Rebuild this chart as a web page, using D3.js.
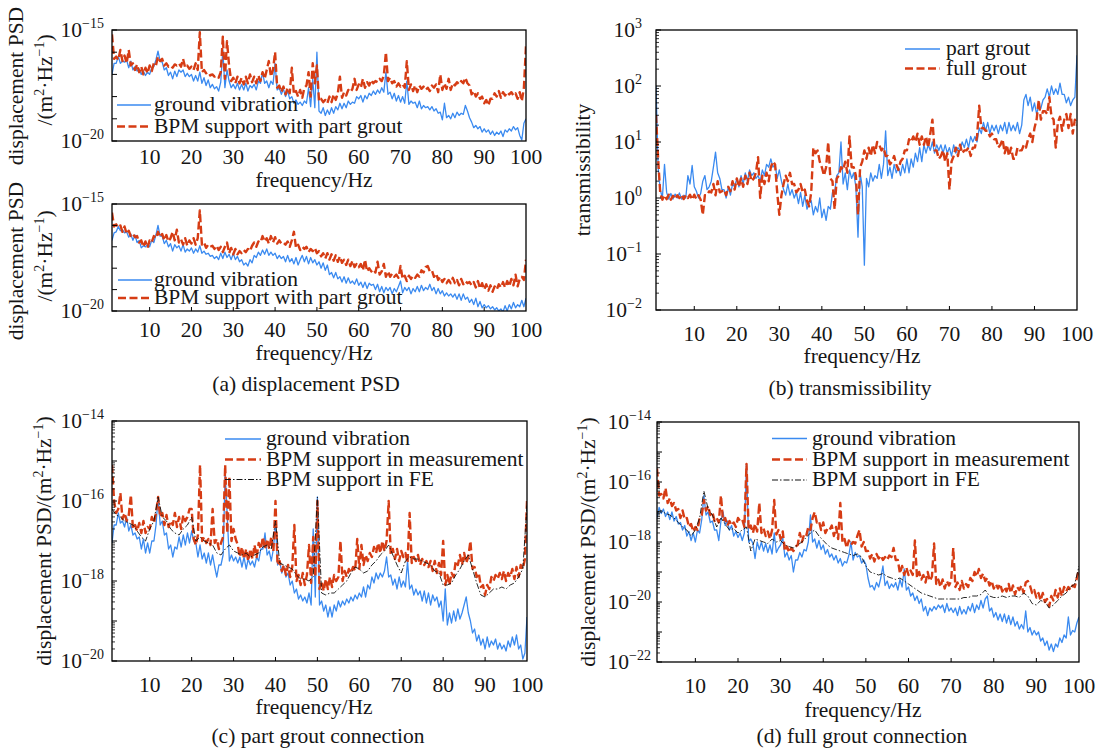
<!DOCTYPE html>
<html>
<head>
<meta charset="utf-8">
<script src="https://cdn.jsdelivr.net/npm/d3@7"></script>
<style>
  body { margin: 0; background: #fff; }
  svg { font-family: "Liberation Serif", "Times New Roman", serif; }
</style>
</head>
<body>
<svg id="chart" width="1099" height="749"></svg>
<script>
// ---------- data ----------
// frequency grids, Hz
var fineFreq = d3.range(1, 100.001, 0.5);   // measured spectra
var feFreq = d3.range(1, 100.001, 1);       // FE result
var freqTicks = [10, 20, 30, 40, 50, 60, 70, 80, 90, 100];

// (a) upper: log10 displacement PSD, m^2/Hz
var aTopGround = [
  -17.0,-16.5,-16.5,-16.2,-16.5,-16.4,-16.45,-16.35,-16.7,-16.4,-16.8,-16.65,-16.85,-16.75,-17.0,-16.85,-17.05,-16.9,-17.0,-16.7,
  -16.65,-16.35,-15.95,-16.4,-16.45,-16.8,-16.7,-17.05,-16.9,-17.2,-16.85,-17.1,-16.8,-16.9,-16.8,-17.1,-16.95,-17.1,-17.0,-17.3,
  -17.05,-17.3,-16.9,-17.4,-17.15,-17.5,-17.25,-17.6,-17.45,-17.65,-17.55,-17.75,-17.35,-15.9,-17.6,-16.8,-17.3,-17.6,-17.45,-17.65,
  -17.4,-17.7,-17.45,-17.7,-17.4,-17.75,-17.5,-17.6,-17.45,-17.7,-17.3,-17.4,-16.9,-17.4,-17.3,-17.6,-17.3,-17.45,-16.5,-17.7,
  -17.6,-17.9,-17.65,-18.0,-17.75,-18.1,-18.0,-18.3,-18.15,-18.35,-18.25,-18.4,-18.2,-18.3,-17.6,-18.45,-17.2,-18.5,-16.0,-18.65,
  -18.75,-18.5,-18.85,-18.6,-18.8,-18.5,-18.75,-18.45,-18.6,-18.3,-18.55,-18.3,-18.5,-18.2,-18.35,-18.25,-18.3,-18.0,-18.1,-17.95,
  -18.25,-17.95,-18.1,-17.85,-17.95,-17.75,-17.9,-17.7,-17.85,-17.6,-17.8,-16.9,-17.9,-17.8,-18.1,-17.85,-18.2,-17.95,-18.25,-18.0,
  -18.3,-17.3,-18.35,-18.2,-18.3,-18.25,-18.5,-18.2,-18.55,-18.4,-18.5,-18.45,-18.6,-18.45,-18.65,-18.55,-18.75,-18.7,-19.05,-18.3,
  -18.95,-18.85,-19.0,-18.75,-18.95,-18.7,-18.85,-18.75,-18.8,-18.4,-18.65,-18.95,-19.15,-19.4,-19.3,-19.45,-19.35,-19.6,-19.45,-19.6,
  -19.5,-19.7,-19.55,-19.75,-19.6,-19.7,-19.55,-19.8,-19.5,-19.6,-19.45,-19.55,-19.35,-19.5,-19.4,-19.75,-19.95,-19.2,-19.0
];
var aTopBpm = [
  -15.2,-16.3,-16.2,-16.35,-15.9,-16.4,-16.15,-16.5,-15.9,-16.6,-16.5,-16.8,-16.55,-16.9,-16.65,-17.0,-16.7,-16.95,-16.6,-16.85,
  -16.5,-16.6,-16.2,-16.4,-16.3,-16.6,-16.5,-16.65,-16.6,-16.7,-16.55,-16.6,-16.5,-16.65,-16.3,-16.7,-16.6,-16.75,-16.65,-16.8,
  -16.5,-16.8,-15.1,-16.9,-16.8,-16.95,-16.9,-17.05,-17.0,-17.1,-17.05,-17.15,-16.9,-15.3,-17.2,-15.5,-16.6,-17.3,-17.15,-17.4,
  -17.1,-17.4,-17.15,-17.45,-17.1,-17.4,-17.0,-17.35,-17.1,-17.4,-17.05,-17.3,-16.9,-17.2,-16.8,-16.4,-17.1,-16.8,-16.0,-17.6,
  -17.5,-17.8,-17.55,-17.9,-17.6,-17.85,-16.7,-17.9,-17.75,-18.0,-17.7,-18.05,-17.6,-17.5,-16.9,-18.0,-16.5,-17.4,-16.6,-18.2,
  -18.1,-18.25,-18.15,-18.3,-18.0,-18.25,-17.9,-18.15,-17.85,-17.1,-18.05,-17.8,-17.95,-17.7,-17.8,-17.65,-17.2,-17.7,-17.45,-17.6,
  -17.2,-17.6,-17.35,-17.5,-17.25,-17.4,-17.3,-17.35,-17.2,-17.3,-17.05,-16.0,-17.3,-17.15,-17.4,-17.3,-17.55,-17.4,-17.55,-17.45,
  -17.6,-16.4,-17.7,-17.45,-17.75,-17.5,-17.8,-17.5,-17.65,-17.55,-17.7,-17.6,-17.75,-17.5,-17.6,-17.45,-17.8,-17.0,-17.7,-17.4,
  -17.65,-17.2,-17.7,-17.4,-17.5,-17.35,-17.45,-17.3,-17.4,-17.15,-17.4,-17.5,-17.9,-17.75,-18.0,-17.85,-18.1,-18.0,-18.3,-18.15,
  -18.4,-18.1,-18.1,-17.85,-18.0,-17.75,-18.05,-17.8,-17.95,-17.8,-17.9,-17.8,-17.95,-17.85,-18.1,-17.8,-18.2,-17.6,-15.7
];

// (a) lower
var aBotGround = [
  -16.7,-16.35,-16.3,-16.05,-16.25,-16.2,-16.35,-16.3,-16.55,-16.4,-16.7,-16.45,-16.8,-16.7,-17.05,-16.95,-17.0,-16.9,-17.0,-16.7,
  -16.8,-16.45,-16.0,-16.5,-16.5,-16.85,-16.7,-17.0,-16.85,-17.2,-16.9,-17.05,-16.95,-17.2,-16.9,-17.25,-17.1,-17.2,-17.05,-17.3,
  -17.1,-17.25,-16.95,-17.3,-17.2,-17.35,-17.3,-17.45,-17.4,-17.55,-17.45,-17.6,-17.3,-17.55,-17.25,-17.5,-17.35,-17.6,-17.3,-17.6,
  -17.45,-17.7,-17.6,-17.85,-17.75,-17.9,-17.6,-17.75,-17.4,-17.5,-17.25,-17.4,-17.15,-17.35,-17.1,-17.4,-17.25,-17.4,-17.3,-17.55,
  -17.4,-17.55,-17.45,-17.7,-17.4,-17.7,-17.55,-17.8,-17.5,-17.85,-17.6,-17.4,-17.7,-17.45,-17.8,-17.5,-17.75,-17.6,-17.85,-17.7,
  -18.0,-17.75,-18.1,-17.85,-18.3,-18.2,-18.45,-18.2,-18.5,-18.4,-18.65,-18.4,-18.7,-18.45,-18.7,-18.6,-18.75,-18.5,-18.8,-18.65,
  -18.9,-18.65,-18.95,-18.7,-18.8,-18.75,-19.0,-18.75,-19.1,-18.85,-19.15,-18.9,-19.05,-18.9,-19.2,-18.95,-19.1,-18.85,-18.6,-19.15,
  -18.9,-19.05,-18.9,-19.2,-18.95,-19.1,-18.85,-19.1,-18.8,-19.05,-18.9,-19.0,-18.75,-19.05,-18.9,-19.2,-18.95,-19.2,-19.05,-19.3,
  -19.15,-19.3,-19.2,-19.35,-19.2,-19.45,-19.2,-19.5,-19.2,-19.45,-19.35,-19.6,-19.45,-19.7,-19.4,-19.8,-19.55,-19.85,-19.7,-19.85,
  -19.75,-19.9,-19.8,-19.95,-19.85,-20.0,-19.9,-20.05,-19.75,-20.0,-19.7,-19.9,-19.6,-19.85,-19.7,-19.8,-19.5,-19.8,-19.4
];
var aBotBpm = [
  -15.4,-16.05,-15.95,-16.1,-16.0,-16.3,-16.05,-16.4,-16.25,-16.5,-16.4,-16.55,-16.5,-16.8,-16.7,-17.0,-16.75,-17.05,-16.7,-16.8,
  -16.5,-16.6,-16.3,-16.55,-16.4,-16.7,-16.45,-16.75,-16.6,-16.3,-16.7,-16.2,-16.8,-16.65,-16.9,-16.6,-16.95,-16.7,-16.85,-16.6,
  -16.9,-16.6,-15.3,-16.9,-16.8,-17.05,-16.9,-17.0,-16.95,-17.1,-16.95,-17.15,-17.0,-17.25,-17.0,-16.8,-17.3,-17.05,-17.35,-17.1,
  -17.35,-17.2,-17.3,-17.15,-17.25,-17.1,-17.2,-16.95,-16.8,-17.0,-16.75,-16.8,-16.5,-16.75,-16.6,-16.85,-16.5,-16.8,-16.55,-16.85,
  -16.7,-16.85,-16.8,-16.9,-16.75,-17.0,-16.7,-16.3,-17.05,-16.9,-17.15,-17.0,-17.1,-17.0,-17.25,-17.1,-17.2,-17.05,-17.3,-17.2,
  -17.45,-17.3,-17.55,-17.3,-17.6,-17.35,-17.65,-17.4,-17.7,-17.45,-17.75,-17.6,-17.85,-17.6,-17.9,-17.65,-17.95,-17.8,-17.95,-17.8,
  -18.1,-17.6,-18.15,-18.0,-18.15,-18.05,-18.2,-17.7,-18.3,-18.15,-17.8,-18.4,-18.15,-18.4,-18.25,-18.4,-18.3,-18.45,-17.9,-18.5,
  -18.35,-18.6,-18.35,-18.5,-18.35,-18.45,-18.3,-18.4,-18.1,-18.2,-17.95,-17.9,-18.15,-18.1,-18.4,-18.25,-18.55,-18.4,-18.65,-18.5,
  -18.7,-18.55,-18.7,-18.45,-18.7,-18.55,-18.8,-18.5,-18.75,-18.6,-18.7,-18.65,-18.8,-18.65,-18.9,-18.6,-18.95,-18.7,-19.0,-18.75,
  -19.05,-18.8,-19.1,-18.85,-19.0,-18.75,-18.9,-18.65,-18.9,-18.6,-18.85,-18.5,-18.8,-18.3,-18.85,-18.5,-18.4,-18.55,-17.6
];

// (b) log10 transmissibility
var bPartGrout = [
  2.0,0.55,0.15,0.0,0.6,0.1,-0.02,0.08,-0.02,0.07,0.0,0.09,-0.02,0.05,0.0,0.4,0.25,0.58,0.2,0.12,
  0.0,0.08,0.3,0.4,0.15,0.2,0.3,0.55,0.82,0.45,0.35,0.15,0.15,0.0,0.2,0.05,0.25,0.2,0.35,0.2,
  0.4,0.25,0.45,0.3,0.5,0.4,0.45,0.35,0.4,0.3,0.5,0.4,0.6,0.55,0.7,0.55,0.6,0.35,0.5,0.3,
  0.15,0.05,0.25,0.05,0.15,0.0,0.1,-0.1,0.1,-0.15,0.05,-0.2,-0.1,-0.05,-0.3,-0.15,-0.25,0.0,-0.35,-0.2,
  -0.4,-0.15,-0.2,0.1,0.1,0.4,0.45,1.0,0.25,0.45,0.15,0.5,0.35,0.45,0.2,-0.7,0.45,0.2,-1.2,0.35,
  0.2,0.45,0.3,0.4,0.35,0.6,0.35,0.6,1.2,0.4,0.55,0.35,0.6,0.45,0.55,0.4,0.6,0.45,0.7,0.45,
  0.7,0.55,0.8,0.65,0.9,0.65,0.95,0.8,0.95,0.85,1.0,0.8,0.95,0.85,0.95,0.8,0.95,0.8,0.9,0.75,
  0.95,0.8,0.9,0.85,1.0,0.9,1.05,0.9,1.1,1.0,1.1,1.0,1.25,1.15,1.35,1.2,1.35,1.15,1.3,1.2,
  1.3,1.15,1.3,1.2,1.35,1.15,1.35,1.2,1.3,1.2,1.35,1.15,1.3,1.75,1.85,1.65,1.8,1.55,1.7,1.5,
  1.65,1.6,1.75,1.8,1.95,1.8,2.0,1.85,1.95,1.85,2.05,1.85,1.85,1.7,1.8,1.65,1.75,1.8,2.55
];
var bFullGrout = [
  1.48,0.7,0.08,-0.03,0.05,-0.02,0.06,-0.03,0.04,-0.02,0.05,0.0,0.06,-0.02,0.05,0.0,0.06,-0.03,0.06,-0.02,
  0.05,-0.03,-0.3,0.05,0.05,0.12,0.1,0.25,0.05,0.3,0.1,0.12,0.15,0.05,0.2,0.12,0.3,0.15,0.35,0.2,
  0.35,0.2,0.4,0.25,0.45,0.3,0.35,0.45,0.73,0.0,0.4,0.25,0.45,0.3,0.55,0.65,0.6,0.1,-0.3,0.05,
  0.25,0.4,0.3,0.45,0.25,0.25,0.1,0.15,0.25,0.1,0.15,-0.05,-0.15,0.1,0.9,0.8,0.85,0.65,0.55,0.4,
  0.55,1.0,0.35,0.3,-0.2,0.35,0.4,0.55,0.5,0.65,0.45,1.1,0.55,0.55,0.4,-0.3,0.55,0.65,0.85,0.7,
  0.9,0.75,0.95,0.8,1.0,0.95,0.85,0.9,0.75,0.75,0.6,0.65,0.75,0.6,0.5,0.65,0.7,0.85,0.85,1.05,
  1.0,1.1,1.0,1.15,0.95,1.1,0.95,1.1,0.9,1.15,1.4,0.85,0.85,0.7,0.75,0.85,0.65,0.8,0.15,0.65,
  0.75,0.9,0.75,0.95,0.8,0.85,0.85,0.9,0.75,0.9,0.9,1.1,1.65,1.25,1.25,1.2,1.2,1.1,1.15,1.05,
  1.05,0.9,0.95,1.05,0.8,0.95,0.75,0.9,0.7,0.7,0.9,0.85,0.85,0.95,0.9,1.05,1.15,1.0,1.25,1.4,
  1.75,1.4,1.55,1.55,1.5,1.8,1.45,1.4,0.9,1.35,1.45,1.2,1.4,1.5,1.25,1.5,1.15,1.4,1.3
];

// (c) part grout connection, log10 PSD
var cGround = [
  -17.05,-16.6,-16.6,-16.3,-16.55,-16.5,-16.65,-16.4,-16.75,-16.6,-16.85,-16.8,-16.95,-16.9,-17.2,-16.95,-17.3,-17.05,-17.3,-17.0,
  -17.0,-16.6,-15.9,-16.6,-16.5,-16.85,-16.8,-17.2,-17.1,-17.4,-17.15,-17.2,-16.9,-17.15,-16.85,-17.1,-16.8,-17.05,-16.75,-17.0,
  -17.05,-17.4,-17.1,-17.45,-17.3,-17.55,-17.3,-17.6,-17.35,-17.65,-17.9,-17.6,-17.6,-17.35,-15.3,-16.4,-17.5,-17.35,-17.5,-17.4,
  -17.55,-17.4,-17.65,-17.4,-17.7,-17.45,-17.6,-17.5,-17.65,-17.4,-17.5,-17.2,-17.2,-16.8,-17.35,-17.25,-17.5,-17.2,-16.6,-17.6,
  -17.5,-17.8,-17.65,-17.9,-17.8,-18.1,-18.0,-18.3,-18.2,-18.45,-18.35,-18.5,-18.4,-18.55,-18.3,-18.6,-16.7,-18.4,-15.9,-18.6,
  -18.5,-18.75,-18.6,-18.9,-18.65,-18.9,-18.6,-18.75,-18.5,-18.65,-18.5,-18.6,-18.45,-18.55,-18.4,-18.5,-18.35,-18.45,-18.3,-18.4,
  -18.15,-18.4,-18.1,-18.2,-17.9,-18.05,-17.8,-17.95,-17.8,-17.9,-17.75,-17.4,-17.9,-17.85,-18.1,-17.95,-18.2,-17.9,-18.15,-18.0,
  -18.15,-17.5,-18.2,-18.1,-18.35,-18.2,-18.35,-18.25,-18.5,-18.25,-18.55,-18.3,-18.6,-18.35,-18.5,-18.4,-18.65,-18.5,-19.0,-18.2,
  -19.1,-18.8,-19.05,-18.75,-19.0,-18.7,-18.95,-18.8,-18.6,-18.4,-18.8,-19.0,-19.3,-19.2,-19.5,-19.35,-19.6,-19.45,-19.7,-19.4,
  -19.65,-19.5,-19.6,-19.45,-19.7,-19.55,-19.7,-19.6,-19.75,-19.5,-19.65,-19.4,-19.6,-19.35,-19.7,-19.6,-19.95,-19.8,-18.9
];
var cBpm = [
  -15.1,-16.0,-16.3,-16.2,-15.8,-16.45,-16.3,-16.5,-16.35,-15.85,-16.7,-16.6,-16.75,-16.55,-16.8,-16.5,-16.8,-16.65,-16.7,-16.4,
  -16.55,-16.3,-15.9,-16.4,-16.3,-16.6,-16.35,-16.65,-16.5,-16.6,-16.3,-16.65,-16.4,-16.7,-16.35,-16.5,-16.4,-16.2,-16.2,-16.95,
  -17.1,-16.85,-15.1,-17.0,-16.9,-17.05,-16.95,-17.1,-16.2,-17.05,-16.95,-17.2,-17.05,-16.9,-15.1,-16.8,-15.4,-17.0,-16.7,-16.95,
  -17.1,-17.4,-17.15,-17.45,-17.2,-17.5,-17.2,-17.45,-17.1,-17.4,-17.05,-17.2,-16.9,-17.2,-16.95,-17.2,-16.9,-17.25,-16.0,-17.6,
  -17.5,-17.75,-17.6,-17.85,-17.6,-17.9,-17.65,-16.6,-18.0,-17.85,-18.1,-17.8,-18.1,-17.85,-17.1,-18.05,-16.9,-17.9,-16.0,-18.2,
  -18.0,-18.25,-17.95,-18.2,-17.9,-18.15,-17.85,-18.0,-17.9,-17.0,-18.0,-17.75,-17.9,-17.7,-17.8,-17.65,-17.75,-16.95,-17.7,-17.1,
  -17.6,-17.35,-17.5,-17.3,-17.4,-17.15,-17.3,-17.05,-17.3,-17.0,-17.25,-17.0,-16.0,-17.35,-17.2,-17.45,-17.2,-17.5,-17.25,-17.4,
  -17.3,-17.55,-16.3,-17.55,-17.4,-17.5,-17.35,-17.6,-17.45,-17.6,-17.5,-17.65,-17.5,-17.75,-17.5,-17.8,-17.55,-17.85,-17.0,-18.1,
  -17.85,-18.1,-17.8,-17.9,-17.5,-17.6,-17.35,-17.6,-17.3,-17.55,-17.4,-17.0,-17.7,-17.65,-17.9,-17.8,-18.15,-18.1,-18.35,-18.1,
  -18.2,-17.9,-18.0,-17.85,-17.95,-17.8,-17.95,-17.75,-18.0,-17.8,-17.9,-17.7,-17.95,-17.65,-17.9,-17.6,-17.7,-17.45,-16.0
];
var cFe = [
  -16.2,-16.35,-16.4,-16.5,-16.55,-16.6,-16.75,-16.9,-17.0,-16.7,
  -16.5,-15.9,-16.4,-16.5,-16.7,-16.8,-16.85,-16.7,-16.6,-16.4,
  -17.0,-16.9,-17.0,-17.05,-17.1,-17.3,-17.35,-17.2,-17.1,-17.25,
  -17.3,-17.35,-17.3,-17.4,-17.35,-17.3,-17.15,-17.1,-17.2,-16.5,
  -17.55,-17.6,-17.65,-17.7,-17.85,-17.95,-17.95,-18.0,-17.9,-15.9,
  -18.3,-18.35,-18.3,-18.3,-18.2,-18.1,-18.0,-17.8,-17.65,-17.7,
  -17.8,-17.75,-17.6,-17.5,-17.35,-17.25,-17.1,-17.35,-17.6,-17.8,
  -17.5,-17.4,-17.45,-17.45,-17.5,-17.55,-17.6,-17.75,-17.8,-18.1,
  -18.1,-18.05,-17.85,-17.7,-17.5,-17.35,-17.7,-18.05,-18.35,-18.4,
  -18.3,-18.2,-18.2,-18.15,-18.2,-18.1,-18.05,-17.9,-17.7,-16.1
];

// (d) full grout connection, log10 PSD
var dGround = [
  -17.2,-16.85,-17.05,-16.9,-17.15,-17.0,-17.25,-17.0,-17.3,-17.15,-17.4,-17.35,-17.6,-17.45,-17.8,-17.65,-17.95,-17.7,-18.0,-17.6,
  -17.7,-17.25,-16.45,-17.1,-17.0,-17.35,-17.3,-17.6,-17.6,-17.95,-17.3,-17.0,-17.45,-17.3,-17.6,-17.45,-17.8,-17.65,-17.85,-17.7,
  -17.95,-17.7,-15.4,-18.0,-17.9,-18.05,-18.55,-18.0,-18.25,-18.0,-18.3,-18.05,-18.35,-18.1,-18.4,-17.7,-18.35,-18.2,-18.1,-17.85,
  -18.5,-18.35,-18.6,-18.45,-19.0,-18.6,-18.6,-18.35,-18.5,-18.25,-18.3,-18.0,-17.1,-18.0,-17.9,-18.2,-17.95,-18.25,-18.1,-18.4,
  -18.25,-18.5,-18.4,-18.6,-18.45,-18.7,-18.55,-18.8,-18.65,-18.7,-18.45,-18.0,-18.6,-18.35,-18.5,-18.45,-18.7,-18.6,-18.75,-19.2,
  -19.5,-19.45,-19.6,-19.35,-19.5,-19.2,-18.8,-19.45,-19.3,-19.55,-19.4,-19.5,-19.35,-19.6,-19.25,-19.5,-18.9,-19.6,-19.5,-19.8,
  -19.7,-19.95,-19.8,-20.05,-19.9,-20.3,-20.15,-20.45,-20.2,-20.3,-20.15,-20.25,-20.1,-20.2,-20.1,-20.35,-20.05,-20.3,-20.2,-20.35,
  -20.2,-20.45,-20.15,-20.4,-20.25,-20.4,-20.15,-20.3,-20.05,-20.35,-20.1,-20.25,-19.95,-20.2,-19.9,-19.8,-20.3,-20.2,-20.5,-20.35,
  -20.6,-20.4,-20.65,-20.4,-20.7,-20.45,-20.75,-20.5,-20.8,-20.65,-20.9,-20.75,-20.9,-20.3,-21.0,-20.85,-21.1,-20.95,-21.1,-21.0,
  -21.3,-21.2,-21.45,-21.3,-21.6,-21.4,-21.65,-21.4,-21.5,-21.2,-21.35,-21.1,-21.2,-20.5,-21.1,-20.95,-21.0,-20.7,-20.5
];
var dBpm = [
  -15.55,-16.45,-16.4,-16.55,-16.2,-16.7,-16.55,-16.8,-16.7,-16.95,-16.9,-17.2,-16.95,-17.25,-17.2,-17.5,-17.4,-17.65,-17.5,-17.6,
  -17.2,-17.1,-16.6,-16.95,-16.8,-17.1,-17.0,-17.3,-17.2,-17.35,-16.45,-17.3,-17.2,-17.45,-17.3,-17.45,-17.35,-17.5,-17.2,-17.3,
  -17.25,-17.5,-15.4,-17.6,-17.45,-17.7,-17.4,-17.65,-16.7,-17.7,-17.55,-17.8,-17.65,-17.9,-17.6,-16.6,-17.75,-17.6,-17.9,-17.65,
  -18.3,-18.15,-18.35,-18.2,-18.3,-18.15,-18.1,-17.7,-18.0,-17.75,-17.8,-17.5,-17.6,-17.2,-17.0,-17.35,-17.3,-17.6,-17.35,-17.7,
  -17.55,-17.6,-17.45,-17.8,-17.5,-17.9,-16.7,-18.0,-17.9,-18.2,-17.95,-18.1,-18.0,-18.05,-17.8,-17.6,-18.15,-18.0,-18.3,-18.3,
  -18.55,-18.4,-18.65,-18.4,-18.55,-18.45,-18.6,-18.5,-18.6,-18.45,-18.5,-18.2,-18.6,-18.6,-19.05,-18.8,-19.1,-18.85,-19.1,-18.95,
  -19.1,-17.95,-19.2,-19.0,-19.25,-19.1,-19.35,-19.0,-19.3,-19.15,-18.05,-19.4,-19.25,-19.5,-19.25,-19.55,-19.3,-19.45,-19.3,-18.2,
  -19.5,-19.35,-19.6,-19.3,-19.55,-19.4,-19.5,-19.2,-19.3,-19.0,-19.15,-18.9,-19.2,-19.05,-19.3,-19.2,-19.45,-19.3,-19.55,-19.4,
  -19.55,-19.4,-19.65,-19.5,-19.65,-19.4,-19.7,-19.45,-19.75,-19.5,-19.6,-19.45,-19.7,-19.35,-19.3,-19.45,-19.7,-19.6,-19.85,-19.7,
  -19.95,-19.7,-20.0,-19.9,-20.15,-19.8,-19.95,-19.6,-19.85,-19.55,-19.8,-19.5,-19.65,-19.5,-19.6,-19.45,-19.5,-19.2,-18.9
];
var dFe = [
  -17.0,-16.95,-17.05,-17.1,-17.2,-17.35,-17.5,-17.6,-17.8,-17.6,
  -17.2,-16.3,-16.9,-17.1,-17.5,-17.2,-17.4,-17.6,-17.55,-17.7,
  -17.6,-17.5,-18.3,-17.9,-17.95,-18.0,-18.05,-17.9,-18.0,-17.95,
  -18.1,-18.15,-18.2,-18.1,-18.0,-17.85,-17.7,-17.6,-17.8,-17.95,
  -18.1,-18.2,-18.25,-18.3,-18.35,-18.4,-18.45,-18.4,-18.5,-18.8,
  -19.0,-19.05,-19.1,-19.05,-19.15,-19.2,-19.25,-19.2,-19.3,-19.4,
  -19.5,-19.6,-19.7,-19.75,-19.8,-19.85,-19.9,-19.9,-19.9,-19.9,
  -19.9,-19.9,-19.85,-19.85,-19.8,-19.8,-19.75,-19.6,-19.8,-19.85,
  -19.85,-19.8,-19.85,-19.8,-19.8,-19.85,-19.7,-19.8,-20.05,-20.1,
  -19.95,-20.0,-20.2,-20.1,-19.95,-19.8,-19.7,-19.5,-19.4,-18.8
];

// ---------- styles ----------
var styles = {
  ground: { stroke: "#3a8af0", width: 1.3, dash: null },
  bpm:    { stroke: "#d63c14", width: 2.4, dash: "8,3.5" },
  fe:     { stroke: "#111111", width: 0.9, dash: "6,2,1.5,2" }
};
var FS = 21.5;     // main font size
var SUP = 14;      // superscript size
var TXT = "#161616";

var svg = d3.select("#chart");
var defs = svg.append("defs");

function powLabel(sel, e) {
  sel.append("tspan").text("10");
  sel.append("tspan").attr("font-size", SUP).attr("dy", -9)
    .text(e < 0 ? "\u2212" + (-e) : String(e));
}

function psdLabel(sel, prefix) {
  sel.append("tspan").text(prefix + "(m");
  sel.append("tspan").attr("font-size", SUP).attr("dy", -8).text("2");
  sel.append("tspan").attr("dy", 8).text("\u00b7Hz");
  sel.append("tspan").attr("font-size", SUP).attr("dy", -8).text("\u22121");
  sel.append("tspan").attr("dy", 8).text(")");
}

var panels = [
  { left: 112, right: 526, top: 30, bottom: 141, yMin: -20, yMax: -15, yLabels: [-15, -20],
    minor: false, xTickMarks: false, xLabelY: 164, xTitle: [314, 187], labelX: 104,
    series: [ { v: aTopGround, f: fineFreq, s: "ground" }, { v: aTopBpm, f: fineFreq, s: "bpm" } ],
    legend: { x1: 117, x2: 151, tx: 154, rows: [[105, "ground vibration", "ground"], [126.5, "BPM support with part grout", "bpm"]] } },
  { left: 112, right: 526, top: 204, bottom: 311, yMin: -20, yMax: -15, yLabels: [-15, -20],
    minor: false, xTickMarks: true, xLabelY: 337, xTitle: [314, 360], labelX: 104,
    caption: [306, 391, "(a) displacement PSD"],
    series: [ { v: aBotGround, f: fineFreq, s: "ground" }, { v: aBotBpm, f: fineFreq, s: "bpm" } ],
    legend: { x1: 118, x2: 152, tx: 154, rows: [[280, "ground vibration", "ground"], [298, "BPM support with part grout", "bpm"]] } },
  { left: 656, right: 1077, top: 30, bottom: 310, yMin: -2, yMax: 3, yLabels: [3, 2, 1, 0, -1, -2],
    minor: true, xTickMarks: true, xLabelY: 341, xTitle: [862, 363], labelX: 642,
    caption: [850, 395, "(b) transmissibility"],
    series: [ { v: bPartGrout, f: fineFreq, s: "ground" }, { v: bFullGrout, f: fineFreq, s: "bpm" } ],
    legend: { x1: 905, x2: 940, tx: 946, rows: [[49, "part grout", "ground"], [68.5, "full grout", "bpm"]] } },
  { left: 112, right: 527, top: 421, bottom: 661, yMin: -20, yMax: -14, yLabels: [-14, -16, -18, -20],
    minor: true, xTickMarks: true, xLabelY: 692, xTitle: [314, 714], labelX: 104,
    caption: [318, 743, "(c) part grout connection"],
    series: [ { v: cGround, f: fineFreq, s: "ground" }, { v: cBpm, f: fineFreq, s: "bpm" }, { v: cFe, f: feFreq, s: "fe" } ],
    legend: { x1: 225, x2: 261, tx: 266, rows: [[439, "ground vibration", "ground"], [459.5, "BPM support in measurement", "bpm"], [479.5, "BPM support in FE", "fe"]] } },
  { left: 657, right: 1079, top: 422, bottom: 662, yMin: -22, yMax: -14, yLabels: [-14, -16, -18, -20, -22],
    minor: true, xTickMarks: true, xLabelY: 693, xTitle: [863, 717], labelX: 651,
    caption: [862, 743, "(d) full grout connection"],
    series: [ { v: dGround, f: fineFreq, s: "ground" }, { v: dBpm, f: fineFreq, s: "bpm" }, { v: dFe, f: feFreq, s: "fe" } ],
    legend: { x1: 772, x2: 807, tx: 812, rows: [[438.5, "ground vibration", "ground"], [459.5, "BPM support in measurement", "bpm"], [480, "BPM support in FE", "fe"]] } }
];

panels.forEach(function(p, idx) {
  var x = d3.scaleLinear().domain([1, 100]).range([p.left, p.right]);
  var y = d3.scaleLog().domain([Math.pow(10, p.yMin), Math.pow(10, p.yMax)]).range([p.bottom, p.top]);
  var g = svg.append("g");

  defs.append("clipPath").attr("id", "clip" + idx).append("rect")
    .attr("x", p.left).attr("y", p.top)
    .attr("width", p.right - p.left).attr("height", p.bottom - p.top);

  var line = d3.line().x(function(d) { return x(d[0]); }).y(function(d) { return y(d[1]); });
  var lines = g.append("g").attr("clip-path", "url(#clip" + idx + ")");
  p.series.forEach(function(s) {
    var st = styles[s.s];
    var pts = s.v.map(function(v, i) { return [s.f[i], Math.pow(10, v)]; });
    lines.append("path").datum(pts)
      .attr("d", line)
      .attr("fill", "none")
      .attr("stroke", st.stroke)
      .attr("stroke-width", st.width)
      .attr("stroke-dasharray", st.dash)
      .attr("stroke-linejoin", "round");
  });

  // frame
  g.append("rect")
    .attr("x", p.left).attr("y", p.top)
    .attr("width", p.right - p.left).attr("height", p.bottom - p.top)
    .attr("fill", "none").attr("stroke", "#000").attr("stroke-width", 1.3);

  // y ticks, inside
  for (var e = p.yMin; e <= p.yMax; e++) {
    var yy = y(Math.pow(10, e));
    g.append("line").attr("x1", p.left).attr("x2", p.left + 5)
      .attr("y1", yy).attr("y2", yy).attr("stroke", "#000").attr("stroke-width", 1);
    if (p.minor && e < p.yMax) {
      for (var k = 2; k <= 9; k++) {
        var ym = y(k * Math.pow(10, e));
        g.append("line").attr("x1", p.left).attr("x2", p.left + 3)
          .attr("y1", ym).attr("y2", ym).attr("stroke", "#000").attr("stroke-width", 0.8);
      }
    }
  }
  p.yLabels.forEach(function(e) {
    var t = g.append("text").attr("x", p.labelX).attr("y", y(Math.pow(10, e)) + 7)
      .attr("text-anchor", "end").attr("font-size", FS).attr("fill", TXT);
    powLabel(t, e);
  });

  // x ticks
  freqTicks.forEach(function(f) {
    if (p.xTickMarks && f < 100) {
      g.append("line").attr("x1", x(f)).attr("x2", x(f))
        .attr("y1", p.bottom).attr("y2", p.bottom - 4).attr("stroke", "#000").attr("stroke-width", 1);
    }
    g.append("text").attr("x", x(f)).attr("y", p.xLabelY)
      .attr("text-anchor", "middle").attr("font-size", FS).attr("fill", TXT).text(f);
  });
  g.append("text").attr("x", p.xTitle[0]).attr("y", p.xTitle[1])
    .attr("text-anchor", "middle").attr("font-size", FS).attr("fill", TXT).text("frequency/Hz");
  if (p.caption) {
    g.append("text").attr("x", p.caption[0]).attr("y", p.caption[1])
      .attr("text-anchor", "middle").attr("font-size", FS).attr("fill", TXT).text(p.caption[2]);
  }

  // legend
  p.legend.rows.forEach(function(r) {
    var st = styles[r[2]];
    g.append("line").attr("x1", p.legend.x1).attr("x2", p.legend.x2)
      .attr("y1", r[0]).attr("y2", r[0])
      .attr("stroke", st.stroke).attr("stroke-width", st.width + 0.3)
      .attr("stroke-dasharray", st.dash);
    g.append("text").attr("x", p.legend.tx).attr("y", r[0] + 6)
      .attr("font-size", FS).attr("fill", TXT).text(r[1]);
  });
});

// y axis titles
function rotText(x, yc) {
  return svg.append("text")
    .attr("transform", "translate(" + x + "," + yc + ") rotate(-90)")
    .attr("text-anchor", "middle").attr("font-size", FS).attr("fill", TXT);
}
rotText(23, 86).text("displacement PSD");
psdLabel(rotText(52, 80), "/");
rotText(23, 261).text("displacement PSD");
psdLabel(rotText(52, 256), "/");
rotText(590, 170).text("transmissibility");
psdLabel(rotText(51, 541), "displacement PSD/");
psdLabel(rotText(595, 542), "displacement PSD/");
</script>
</body>
</html>
